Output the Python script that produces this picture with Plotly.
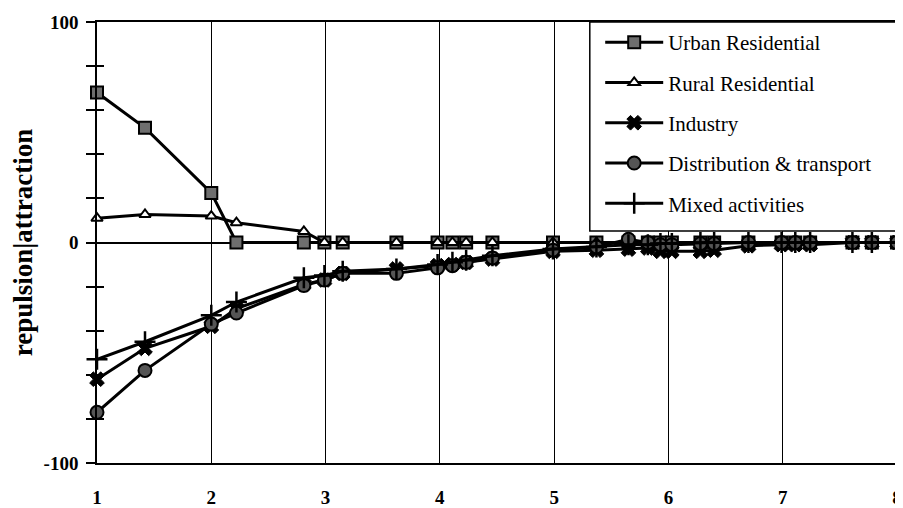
import plotly.graph_objects as go

# Distance classes (x) shared by all series
distance = [1, 1.42, 2, 2.22, 2.81, 2.99, 3.15, 3.62, 3.98, 4.11, 4.23, 4.46, 4.99,
            5.37, 5.65, 5.82, 5.93, 6.03, 6.28, 6.40, 6.70, 6.99, 7.11, 7.24, 7.61, 7.78, 8.0]

urban_residential = [68, 52, 22.5, 0, 0, 0, 0, 0, 0, 0, 0, 0, 0,
                     0, 0, 0, 0, 0, 0, 0, 0, 0, 0, 0, 0, 0, 0]
rural_residential = [11, 12.7, 12, 9, 5, 0, 0, 0, 0, 0, 0, 0, 0,
                     0, 0, 0, 0, 0, 0, 0, 0, 0, 0, 0, 0, 0, 0]
industry = [-62, -48, -38, -30, -19, -17, -14, -12, -10.5, -10, -9, -7.5, -4,
            -3.5, -3, -2.5, -4, -4, -4, -3.5, -1.5, -1, -1, -1, 0, 0, 0]
distribution = [-77, -58, -37, -32, -19.5, -17, -14, -14, -11.5, -10.5, -9, -7, -3.5,
                -2, 1.5, 0, -1, -1, -0.5, -0.5, 0, 0, 0, 0, 0, 0, 0]
mixed = [-53, -45, -33, -27, -16, -15, -13, -12, -10, -9, -8, -6, -3,
         -2, -1, -1, -0.5, -0.5, 0, 0, 0, 0, 0, 0, 0, 0, 0]

series_names = ["Urban Residential", "Rural Residential", "Industry",
                "Distribution & transport", "Mixed activities"]

y_tick_vals = [-100, -80, -60, -40, -20, 0, 20, 40, 60, 80, 100]
y_tick_text = ["-100", "", "", "", "", "0", "", "", "", "", "100"]
x_tick_vals = [1, 2, 3, 4, 5, 6, 7, 8]

SERIF = "Liberation Serif"

styles = [
    dict(symbol="square", size=12, color="#6e6e6e", line=dict(color="black", width=2)),
    dict(symbol="triangle-up", size=10, color="white", line=dict(color="black", width=2)),
    dict(symbol="x", size=13, color="black", line=dict(color="black", width=1)),
    dict(symbol="circle", size=13, color="#555555", line=dict(color="black", width=2)),
    dict(symbol="cross-thin", size=15, color="black", line=dict(color="black", width=2.5)),
]
values = [urban_residential, rural_residential, industry, distribution, mixed]

fig = go.Figure()
for name, vals, st in zip(series_names, values, styles):
    fig.add_trace(go.Scatter(
        x=distance, y=vals, name=name, mode="lines+markers",
        line=dict(color="black", width=3),
        marker=st, cliponaxis=False, legendgroup=name,
    ))

# overlay axis for the inside half of the y ticks
fig.add_trace(go.Scatter(x=[], y=[], yaxis="y2", showlegend=False, hoverinfo="skip"))

# legend frame (white box with black border)
fig.add_shape(type="rect", xref="paper", yref="paper",
              x0=0.616, x1=1.0, y0=0.526, y1=1.0,
              line=dict(color="black", width=1.5), fillcolor="white", layer="above")

# page body has an 8px margin, so the figure is drawn 8px smaller
fig.update_layout(
    width=895, height=500,
    margin=dict(l=89, r=6, t=14, b=45),
    paper_bgcolor="white", plot_bgcolor="white",
    font=dict(family=SERIF, color="black"),
    showlegend=True,
    legend=dict(
        x=0.629, y=1, xanchor="left", yanchor="top",
        bgcolor="rgba(0,0,0,0)", borderwidth=0,
        font=dict(family=SERIF, size=21, color="black"),
        traceorder="grouped", tracegroupgap=10, itemwidth=58,
    ),
    xaxis=dict(
        range=[1, 8], tickvals=x_tick_vals, ticks="",
        showgrid=True, gridcolor="black", gridwidth=1,
        showline=True, linecolor="black", linewidth=1.5, mirror=True,
        zeroline=False, automargin=False,
        tickfont=dict(family=SERIF, size=19, color="black", weight="bold"),
        ticklabelstandoff=16,
    ),
    yaxis=dict(
        range=[-100, 100], tickvals=y_tick_vals, ticktext=y_tick_text,
        ticks="outside", ticklen=9, tickwidth=1.5, tickcolor="black",
        showgrid=False, zeroline=True, zerolinecolor="black", zerolinewidth=1.5,
        showline=True, linecolor="black", linewidth=1.5, mirror=True,
        automargin=False,
        tickfont=dict(family=SERIF, size=19, color="black", weight="bold"),
        ticklabelstandoff=4,
        title=dict(text="repulsion|attraction", standoff=9,
                   font=dict(family=SERIF, size=27, color="black", weight="bold")),
    ),
    yaxis2=dict(
        range=[-100, 100], overlaying="y", side="left", tickvals=y_tick_vals,
        ticks="inside", ticklen=7, tickwidth=1.5, tickcolor="black",
        showticklabels=False, showgrid=False, zeroline=False, showline=False,
        automargin=False,
    ),
)

fig.write_html("out.html")
